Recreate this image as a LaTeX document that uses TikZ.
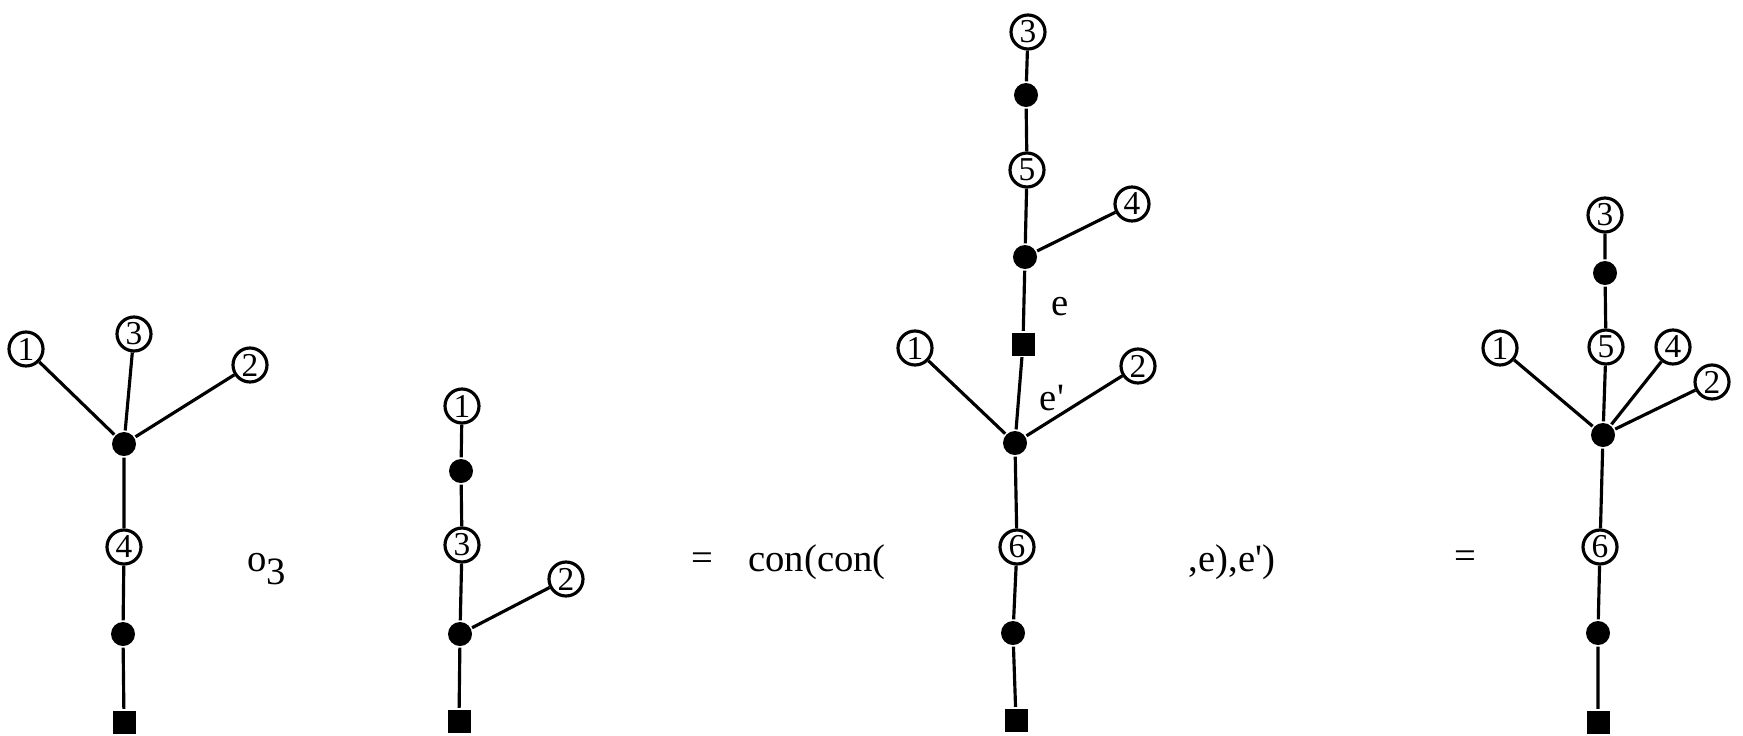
\documentclass[tikz,border=0pt]{standalone}
\usepackage{fontspec}
\setmainfont{Liberation Serif}

\begin{document}
\begin{tikzpicture}[line width=0.9pt,
    leaf/.style={draw, circle, fill=white, inner sep=0pt, minimum size=0.34cm, font=\fontsize{9.5}{9.5}\selectfont},
    vert/.style={fill, circle, inner sep=0pt, minimum size=0.24cm},
    base/.style={fill, rectangle, inner sep=0pt, minimum size=0.23cm},
    lbl/.style={font=\fontsize{11}{13}\selectfont}]
  \useasboundingbox (0,0) rectangle (17.43,7.35);

  % First tree
  \node[leaf] (a1) at (0.26,3.86) {1};
  \node[leaf] (a3) at (1.34,4.01) {3};
  \node[leaf] (a2) at (2.50,3.70) {2};
  \node[vert] (ap) at (1.24,2.91) {};
  \node[leaf] (a4) at (1.24,1.88) {4};
  \node[vert] (aq) at (1.23,1.01) {};
  \node[base] (ar) at (1.24,0.13) {};
  \draw (a1) -- (ap);
  \draw (a3) -- (ap);
  \draw (a2) -- (ap);
  \draw (ap) -- (a4) -- (aq) -- (ar);

  % Composition
  \node[lbl] (comp) at (2.67,1.66) {o\raisebox{-0.7ex}{3}};

  % Second tree
  \node[leaf] (b1) at (4.62,3.29) {1};
  \node[vert] (bp) at (4.61,2.64) {};
  \node[leaf] (b3) at (4.62,1.90) {3};
  \node[leaf] (b2) at (5.66,1.56) {2};
  \node[vert] (bq) at (4.60,1.01) {};
  \node[base] (br) at (4.59,0.14) {};
  \draw (b1) -- (bp) -- (b3) -- (bq) -- (br);
  \draw (bq) -- (b2);

  % Contraction
  \node[lbl] (eqa) at (7.02,1.73) {=};
  \node[lbl] (cona) at (8.17,1.73) {con(con(};

  % Third tree
  \node[leaf] (c3) at (10.28,7.03) {3};
  \node[vert] (cp) at (10.26,6.40) {};
  \node[leaf] (c5) at (10.27,5.65) {5};
  \node[leaf] (c4) at (11.32,5.31) {4};
  \node[vert] (cq) at (10.25,4.78) {};
  \node[base] (cs) at (10.23,3.91) {};
  \node[leaf] (c1) at (9.15,3.87) {1};
  \node[leaf] (c2) at (11.38,3.69) {2};
  \node[vert] (ct) at (10.15,2.92) {};
  \node[leaf] (c6) at (10.17,1.88) {6};
  \node[vert] (cu) at (10.13,1.02) {};
  \node[base] (cr) at (10.16,0.15) {};
  \draw (c3) -- (cp) -- (c5) -- (cq) -- (cs) -- (ct) -- (c6) -- (cu) -- (cr);
  \draw (cq) -- (c4);
  \draw (c1) -- (ct);
  \draw (c2) -- (ct);
  \node[lbl] (ce) at (10.60,4.28) {e};
  \node[lbl] (cf) at (10.52,3.37) {e\textquotesingle};
  \node[lbl] (conb) at (12.32,1.73) {,e),e\textquotesingle)};

  % Result
  \node[lbl] (eqb) at (14.65,1.75) {=};
  \node[leaf] (d3) at (16.05,5.20) {3};
  \node[vert] (dp) at (16.05,4.62) {};
  \node[leaf] (d1) at (15.00,3.87) {1};
  \node[leaf] (d5) at (16.06,3.88) {5};
  \node[leaf] (d4) at (16.73,3.88) {4};
  \node[leaf] (d2) at (17.12,3.53) {2};
  \node[vert] (dq) at (16.03,3.00) {};
  \node[leaf] (d6) at (16.00,1.88) {6};
  \node[vert] (du) at (15.98,1.02) {};
  \node[base] (dr) at (15.98,0.13) {};
  \draw (d3) -- (dp) -- (d5) -- (dq) -- (d6) -- (du) -- (dr);
  \draw (d1) -- (dq);
  \draw (d4) -- (dq);
  \draw (d2) -- (dq);
\end{tikzpicture}
\end{document}
